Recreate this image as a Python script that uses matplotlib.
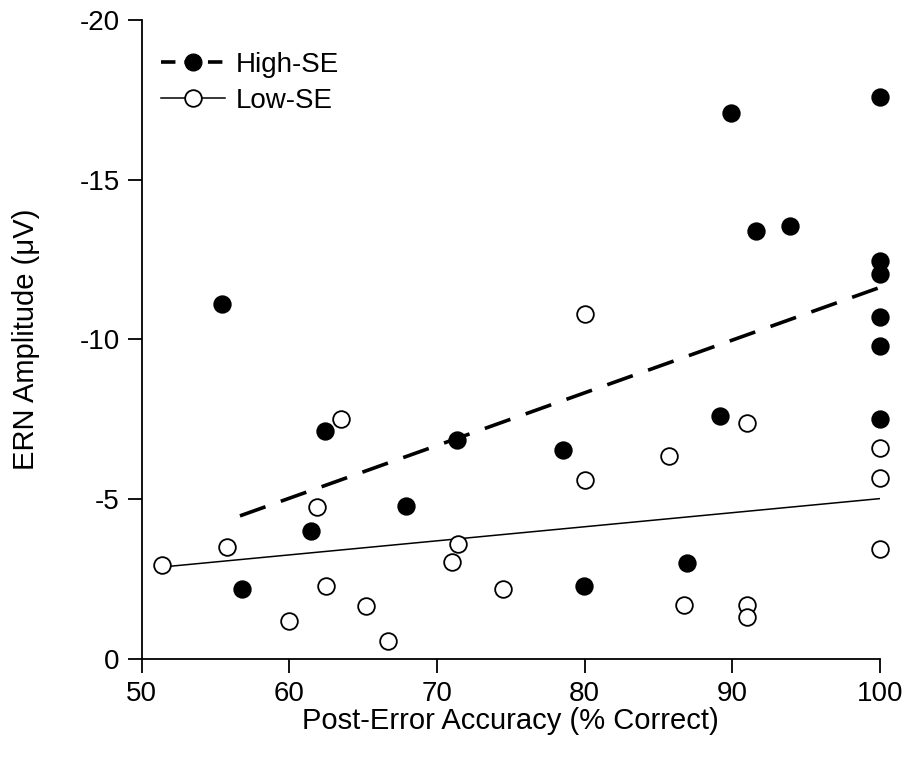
import numpy as np
import matplotlib
matplotlib.use("Agg")
import matplotlib.pyplot as plt

plt.rcParams['font.family'] = ['Liberation Sans', 'DejaVu Sans']

# High-SE (filled)
high_x = [55.4, 56.8, 61.45, 62.4, 67.9, 71.35, 78.5, 79.95, 86.9, 89.2, 89.9, 91.6, 93.9,
          100, 100, 100, 100, 100, 100]
high_y = [-11.1, -2.2, -4.0, -7.15, -4.8, -6.85, -6.55, -2.3, -3.0, -7.6, -17.1, -13.4, -13.55,
          -17.6, -12.45, -12.05, -10.7, -9.8, -7.5]

# Low-SE (open)
low_x = [51.4, 55.8, 60.0, 61.9, 62.5, 63.5, 65.2, 66.7, 71.0, 71.4, 74.5, 80.0, 80.0,
         85.7, 86.7, 91.0, 91.0, 91.0, 100, 100, 100]
low_y = [-2.95, -3.5, -1.2, -4.75, -2.3, -7.5, -1.65, -0.56, -3.05, -3.6, -2.2, -10.8, -5.6,
         -6.35, -1.7, -7.4, -1.7, -1.3, -6.6, -5.65, -3.45]

# regression lines (endpoints)
high_fit_x = [56.65, 100]
high_fit_y = [-4.48, -11.63]
low_fit_x = [51.4, 100]
low_fit_y = [-2.88, -5.02]

fig = plt.figure(figsize=(9.09, 7.63), dpi=100)
ax = fig.add_axes([0.156, 0.1363, 0.812, 0.8375])

dash = (0, (7.5, 4.5))
ax.plot(high_fit_x, high_fit_y, color='black', lw=2.6, ls=dash, zorder=2)
ax.plot(low_fit_x, low_fit_y, color='black', lw=1.1, zorder=2)

ax.plot(high_x, high_y, 'o', ms=12, mfc='black', mec='black', mew=1.2, zorder=3,
        clip_on=False)
ax.plot(low_x, low_y, 'o', ms=12, mfc='white', mec='black', mew=1.3, zorder=3,
        clip_on=False)

# legend handles
h1, = ax.plot([], [], color='black', lw=2.6, ls=(0, (4, 2.5)), marker='o', ms=12,
              mfc='black', mec='black')
h2, = ax.plot([], [], color='black', lw=1.1, marker='o', ms=12, mfc='white',
              mec='black', mew=1.3)
ax.legend([h1, h2], ['High-SE', 'Low-SE'], loc='upper left', frameon=False,
          fontsize=20, handlelength=2.3, handletextpad=0.4, labelspacing=0.35,
          bbox_to_anchor=(0.0, 0.98), borderpad=0.2)

ax.set_xlim(50, 100)
ax.set_ylim(0, -20)
ax.set_xticks([50, 60, 70, 80, 90, 100])
ax.set_yticks([0, -5, -10, -15, -20])
ax.set_yticklabels(['0', '-5', '-10', '-15', '-20'])

for s in ['top', 'right']:
    ax.spines[s].set_visible(False)
for s in ['left', 'bottom']:
    ax.spines[s].set_linewidth(1.3)
ax.tick_params(direction='out', length=10, width=1.3, labelsize=20, pad=6)

ax.set_xlabel('Post-Error Accuracy (% Correct)', fontsize=21, labelpad=0)
ax.set_ylabel('ERN Amplitude (\u03bcV)', fontsize=21, labelpad=28)

fig.savefig('out.png', dpi=100)
